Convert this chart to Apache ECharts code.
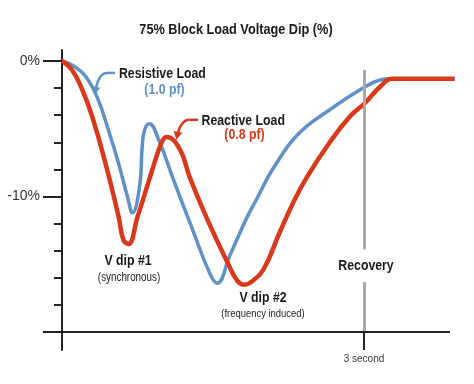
<!DOCTYPE html>
<html>
<head>
<meta charset="utf-8">
<script src="https://cdn.jsdelivr.net/npm/echarts@6/dist/echarts.min.js"></script>
<style>html,body{margin:0;padding:0;background:#fff;}#c{width:474px;height:384px;}</style>
</head>
<body>
<div id="c"></div>
<script>
// ---- data (time in seconds, voltage dip in %) ----
const resistiveT = [0, 0.13, 0.26, 0.36, 0.46, 0.56, 0.65, 0.70, 0.775, 0.795, 0.82, 0.867, 0.97, 1.10, 1.30, 1.47, 1.54, 1.67, 1.84, 1.94, 2.10, 2.36, 2.66, 2.99, 3.16, 3.26, 3.90];
const resistiveV = [0, -0.44, -1.4, -2.87, -5.07, -7.5, -10.0, -11.2, -9.0, -6.5, -5.1, -4.63, -6.0, -8.6, -12.5, -15.7, -16.4, -14.3, -11.5, -10.1, -7.9, -5.3, -3.6, -2.0, -1.4, -1.32, -1.32];
const reactiveT = [0, 0.10, 0.20, 0.30, 0.43, 0.56, 0.61, 0.66, 0.75, 0.89, 0.99, 1.04, 1.17, 1.27, 1.45, 1.64, 1.74, 1.81, 1.88, 2.00, 2.165, 2.30, 2.43, 2.66, 2.86, 3.01, 3.16, 3.28, 3.90];
const reactiveV = [0, -0.66, -2.1, -4.1, -7.5, -11.4, -13.2, -13.5, -11.5, -8.2, -6.0, -5.6, -6.5, -8.6, -11.8, -14.8, -16.2, -16.5, -16.3, -15.4, -12.6, -10.4, -8.6, -6.0, -4.1, -3.1, -1.9, -1.32, -1.32];
const yMajorTicks = [0, -10];
const yMinorTicks = [-2, -4, -6, -8, -12, -14, -16, -18];
const xTickValues = [3];
const xTickLabels = ['3 second'];
const recoveryTime = 3;
const titleText = '75% Block Load Voltage Dip (%)';

const BLUE = '#5f91c9';
const RED = '#d9391a';
const SANS = "'Liberation Sans',Arial,sans-serif";
const NARROW_X = 0.82;

const resistiveData = resistiveT.map((t, i) => [t, resistiveV[i]]);
const reactiveData = reactiveT.map((t, i) => [t, reactiveV[i]]);

const chart = echarts.init(document.getElementById('c'), null, {renderer: 'canvas'});
const Y_MIN = -21.32, Y_MAX = 0.81;
chart.setOption({
  animation: false,
  backgroundColor: '#fff',
  grid: {left: 62, right: 18, top: 50, bottom: 34, containLabel: false},
  xAxis: {
    type: 'value', min: 0, max: 3.914,
    axisLine: {show: false, onZero: false},
    splitLine: {show: false},
    axisTick: {show: true, inside: true, length: 18, customValues: xTickValues, lineStyle: {color: '#222', width: 2}},
    axisLabel: {show: true, customValues: xTickValues, formatter: v => xTickLabels[xTickValues.indexOf(v)] || '', margin: 4, fontFamily: SANS, fontSize: 10, color: '#333'}
  },
  yAxis: [
    {
      type: 'value', min: Y_MIN, max: Y_MAX, position: 'left',
      axisLine: {show: true, onZero: false, lineStyle: {color: '#222', width: 2}},
      splitLine: {show: false},
      axisTick: {show: true, length: 19, customValues: yMajorTicks, lineStyle: {color: '#222', width: 2}},
      axisLabel: {show: true, customValues: yMajorTicks, formatter: v => v + '%', margin: 22, fontFamily: SANS, fontSize: 14, color: '#333'}
    },
    {
      type: 'value', min: Y_MIN, max: Y_MAX, position: 'left', offset: 0,
      axisLine: {show: false, onZero: false},
      splitLine: {show: false},
      axisTick: {show: true, length: 8, customValues: yMinorTicks, lineStyle: {color: '#222', width: 2}},
      axisLabel: {show: false}
    }
  ],
  series: [
    {
      type: 'line', data: [], z: 1, silent: true,
      markLine: {
        silent: true, symbol: 'none', label: {show: false},
        lineStyle: {color: '#a9a9a9', width: 3, type: 'solid'},
        data: [
          [{coord: [recoveryTime, -0.66]}, {coord: [recoveryTime, -13.9]}],
          [{coord: [recoveryTime, -16.3]}, {coord: [recoveryTime, -20]}]
        ]
      }
    },
    {
      name: 'Resistive Load', type: 'line', data: resistiveData, smooth: 0.45,
      showSymbol: false, z: 3, lineStyle: {color: BLUE, width: 3.5}, itemStyle: {color: BLUE}
    },
    {
      name: 'Reactive Load', type: 'line', data: reactiveData, smooth: 0.45,
      showSymbol: false, z: 4, lineStyle: {color: RED, width: 4.5}, itemStyle: {color: RED}
    }
  ]
});

function px(t, v) { return chart.convertToPixel({gridIndex: 0}, [t, v]); }

const labels = [
  {text: 'Resistive Load', t: 0.566, v: -0.98, align: 'left', font: 'bold 15px ' + SANS, fill: '#1a1a1a', sx: NARROW_X},
  {text: '(1.0 pf)', t: 1.018, v: -2.17, align: 'center', font: 'bold 14px ' + SANS, fill: BLUE, sx: 0.88},
  {text: 'Reactive Load', t: 1.386, v: -4.41, align: 'left', font: 'bold 15px ' + SANS, fill: '#1a1a1a', sx: NARROW_X},
  {text: '(0.8 pf)', t: 1.813, v: -5.47, align: 'center', font: 'bold 14px ' + SANS, fill: RED, sx: 0.88},
  {text: 'V dip #1', t: 0.656, v: -14.78, align: 'center', font: 'bold 15px ' + SANS, fill: '#1a1a1a', sx: NARROW_X},
  {text: '(synchronous)', t: 0.666, v: -15.96, align: 'center', font: '12px ' + SANS, fill: '#222', sx: NARROW_X},
  {text: 'V dip #2', t: 1.997, v: -17.5, align: 'center', font: 'bold 15px ' + SANS, fill: '#1a1a1a', sx: NARROW_X},
  {text: '(frequency induced)', t: 1.997, v: -18.68, align: 'center', font: '11.5px ' + SANS, fill: '#222', sx: NARROW_X},
  {text: 'Recovery', t: 3.02, v: -15.15, align: 'center', font: 'bold 15px ' + SANS, fill: '#1a1a1a', sx: NARROW_X}
];
const arrows = [
  {s: [0.526, -0.88], tip: [0.328, -2.28], color: BLUE},
  {s: [1.351, -4.34], tip: [1.142, -5.59], color: RED}
];

const graphics = [];
// title
graphics.push({type: 'text', z: 10, x: 236, y: 30, scaleX: NARROW_X, style: {text: titleText, font: 'bold 15.5px ' + SANS, fill: '#1a1a1a', align: 'center', verticalAlign: 'middle'}});
// horizontal axis line at -20%
const a0 = px(-0.189, -20), a1 = px(3.854, -20);
graphics.push({type: 'line', z: 5, shape: {x1: a0[0], y1: a0[1], x2: a1[0], y2: a1[1]}, style: {stroke: '#222', lineWidth: 2}});

labels.forEach(l => {
  const p = px(l.t, l.v);
  graphics.push({type: 'text', z: 10, x: p[0], y: p[1], scaleX: l.sx, style: {text: l.text, font: l.font, fill: l.fill, align: l.align, verticalAlign: 'middle'}});
});

arrows.forEach(a => {
  const S = px(a.s[0], a.s[1]), T = px(a.tip[0], a.tip[1]);
  const C = [S[0] - 0.4 * (S[0] - T[0]), S[1]];
  const cp1 = [C[0] - 0.55 * (C[0] - T[0]), S[1]];
  const cp2 = [T[0] + 2, S[1] + 0.45 * (T[1] - S[1])];
  let dx = T[0] - cp2[0], dy = T[1] - cp2[1];
  const len = Math.hypot(dx, dy); dx /= len; dy /= len;
  const nx = -dy, ny = dx;
  const tipP = [T[0] + dx * 3, T[1] + dy * 3];
  const base = [T[0] - dx * 5, T[1] - dy * 5];
  graphics.push({type: 'line', z: 10, shape: {x1: S[0], y1: S[1], x2: C[0], y2: C[1]}, style: {stroke: a.color, lineWidth: 2.5}});
  graphics.push({type: 'bezierCurve', z: 10, shape: {x1: C[0], y1: C[1], cpx1: cp1[0], cpy1: cp1[1], cpx2: cp2[0], cpy2: cp2[1], x2: T[0], y2: T[1]}, style: {stroke: a.color, lineWidth: 2.5, fill: null}});
  graphics.push({type: 'polygon', z: 10, shape: {points: [tipP, [base[0] + nx * 4.5, base[1] + ny * 4.5], [base[0] - nx * 4.5, base[1] - ny * 4.5]]}, style: {fill: a.color}});
});

chart.setOption({graphic: graphics});
</script>
</body>
</html>
